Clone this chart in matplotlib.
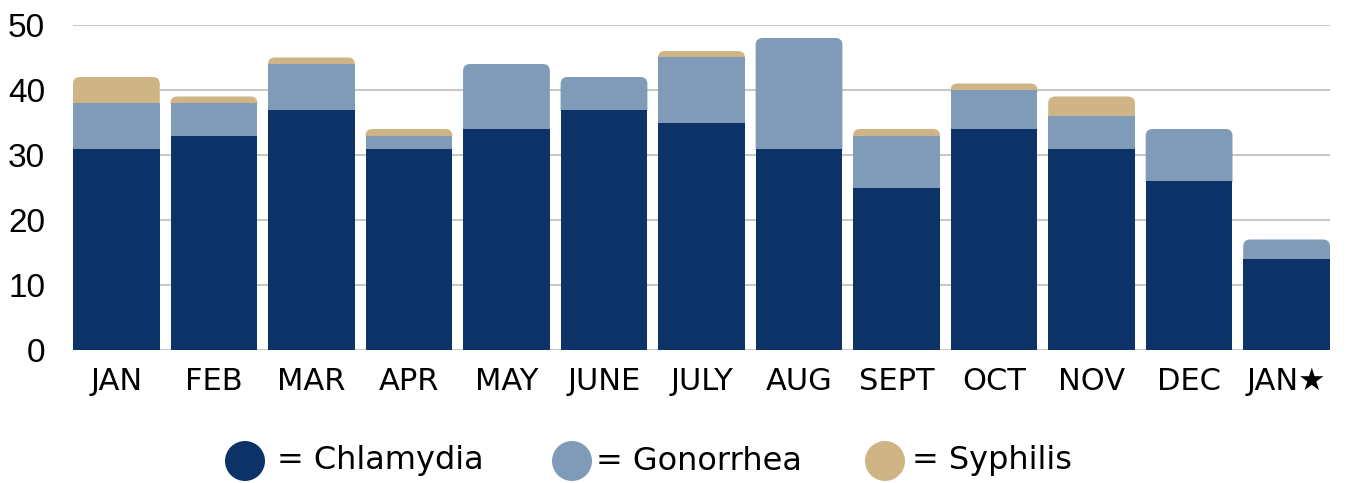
import matplotlib
matplotlib.use("Agg")
import matplotlib.pyplot as plt
from matplotlib.patches import Ellipse, PathPatch
from matplotlib.path import Path
import numpy as np

months = ["JAN", "FEB", "MAR", "APR", "MAY", "JUNE", "JULY", "AUG", "SEPT", "OCT", "NOV", "DEC", "JAN\u2605"]
chlamydia = [31, 33, 37, 31, 34, 37, 35, 31, 25, 34, 31, 26, 14]
gonorrhea = [7, 5, 7, 2, 10, 5, 10, 17, 8, 6, 5, 8, 3]
syphilis = [4, 1, 1, 1, 0, 0, 1, 0, 1, 1, 3, 0, 0]
series_names = ["Chlamydia", "Gonorrhea", "Syphilis"]
colors = ["#0d3268", "#7f9bb7", "#cfb585"]
yticks = [0, 10, 20, 30, 40, 50]

W, H, DPI = 1367, 483, 100
fig = plt.figure(figsize=(W / DPI, H / DPI), dpi=DPI)
ax = fig.add_axes([73 / W, 133 / H, (1330 - 73) / W, (458 - 133) / H])

x = np.arange(len(months))
bw = 0.89
ax.set_xlim(-bw / 2, len(months) - 1 + bw / 2)
ax.set_ylim(0, 50)

series = [np.array(chlamydia), np.array(gonorrhea), np.array(syphilis)]
cums = np.cumsum(np.vstack(series), axis=0)

# pixel -> data conversions from the axes' size
ax_w_px = (1330 - 73)
ax_h_px = (458 - 133)
xr = ax.get_xlim()[1] - ax.get_xlim()[0]
yr = ax.get_ylim()[1] - ax.get_ylim()[0]
r_px = 7
rx = r_px * xr / ax_w_px
ry = r_px * yr / ax_h_px
overlap = 1.5 * yr / ax_h_px  # segments tuck 1.5px under the one below (no seams)

def rounded(x0, y0, w, h, rtop):
    ryy = min(ry, rtop)
    verts = [(x0, y0), (x0 + w, y0), (x0 + w, y0 + h - ryy),
             (x0 + w, y0 + h), (x0 + w - rx, y0 + h),
             (x0 + rx, y0 + h),
             (x0, y0 + h), (x0, y0 + h - ryy),
             (x0, y0)]
    codes = [Path.MOVETO, Path.LINETO, Path.LINETO,
             Path.CURVE3, Path.CURVE3,
             Path.LINETO,
             Path.CURVE3, Path.CURVE3,
             Path.CLOSEPOLY]
    return Path(verts, codes)

for k in range(len(series)):
    z = 3 + (len(series) - k)
    base = cums[k] - series[k]
    ext = overlap if k > 0 else 0.0
    bc = ax.bar(x, series[k] + ext, bw, bottom=base - ext, color=colors[k],
                linewidth=0, zorder=z)
    for i, p in enumerate(bc.patches):
        if series[k][i] <= 0:
            p.set_visible(False)
            continue
        is_top = all(series[j][i] == 0 for j in range(k + 1, len(series)))
        if is_top:
            p.set_visible(False)
            ax.add_patch(PathPatch(
                rounded(p.get_x(), p.get_y(), p.get_width(), p.get_height(), series[k][i]),
                facecolor=colors[k], linewidth=0, zorder=z))

ax.set_yticks(yticks)
ax.set_yticklabels([str(t) for t in yticks], fontsize=24, family=["Liberation Sans", "DejaVu Sans"])
ax.set_xticks(x)
ax.set_xticklabels(months, fontsize=22, family=["DejaVu Sans"])
ax.tick_params(axis="both", length=0)
ax.tick_params(axis="y", pad=20)
ax.tick_params(axis="x", pad=12)
ax.grid(axis="y", color="#c8c8c8", linewidth=1.5, zorder=0)
for s in ax.spines.values():
    s.set_visible(False)

# legend
leg_circle_x = [245, 572, 885]
leg_text_x = [277, 596, 912]
ly = 461
for cx, tx, name, c in zip(leg_circle_x, leg_text_x, series_names, colors):
    fig.add_artist(Ellipse((cx / W, 1 - ly / H), 40 / W, 40 / H,
                           transform=fig.transFigure, facecolor=c, edgecolor="none"))
    fig.text(tx / W, 1 - ly / H, "= " + name, fontsize=23, va="center", ha="left",
             family=["DejaVu Sans"])

fig.savefig("out.png", dpi=DPI)
